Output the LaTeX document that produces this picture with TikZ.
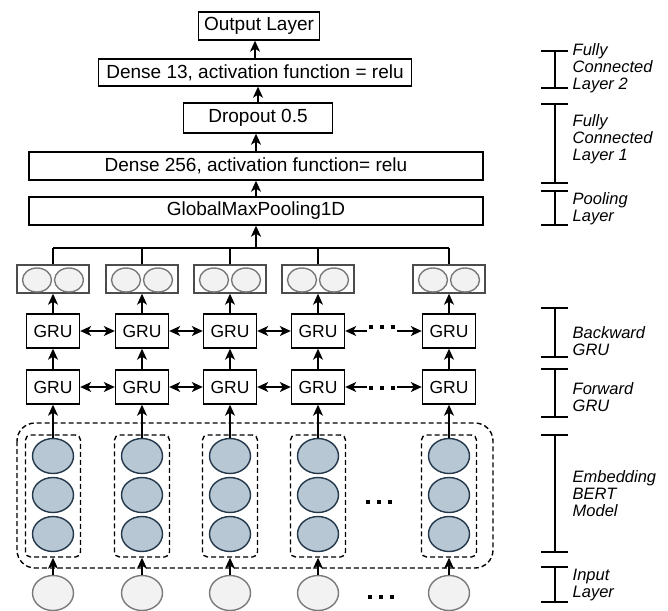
\documentclass[tikz,border=0pt]{standalone}
\usepackage{fontspec}
\setmainfont{Liberation Sans}
\usetikzlibrary{shapes.geometric, arrows.meta}
\definecolor{embfill}{HTML}{B8C7D4}
\definecolor{embline}{HTML}{23374A}
\definecolor{inpfill}{HTML}{F2F2F2}
\definecolor{inpline}{HTML}{7A7A7A}
\newcommand{\sqdots}{\rule{4pt}{4pt}\hspace{7pt}\rule{4pt}{4pt}\hspace{7pt}\rule{4pt}{4pt}}

\begin{document}
\begin{tikzpicture}[>={Stealth[length=11pt, width=10pt, inset=3pt]}, x=1pt, y=-1pt, line width=1.4pt,
    layerbox/.style={draw, rectangle, inner sep=0pt, font=\fontsize{19}{22}\selectfont},
    grubox/.style={draw, rectangle, inner sep=0pt, minimum width=53pt, minimum height=34pt, font=\fontsize{17.5}{20}\selectfont},
    outbox/.style={draw=black!70, rectangle, inner sep=0pt, minimum width=72pt, minimum height=28pt},
    outcirc/.style={draw=inpline, fill=inpfill, ellipse, inner sep=0pt, minimum width=29pt, minimum height=24pt},
    embcirc/.style={draw=embline, fill=embfill, ellipse, inner sep=0pt, minimum width=41pt, minimum height=35pt},
    dashline/.style={dash pattern=on 5pt off 3pt},
    colbox/.style={draw, dashline, rectangle, rounded corners=5pt, inner sep=0pt, minimum width=55pt, minimum height=122pt},
    inpcirc/.style={draw=inpline, fill=inpfill, ellipse, inner sep=0pt, minimum width=41pt, minimum height=35pt},
    dotsnode/.style={inner sep=2pt, outer sep=0pt},
    sidelabel/.style={anchor=west, align=left, inner sep=0pt, font=\fontsize{16.5}{17}\selectfont\itshape}]
  \useasboundingbox (0,0) rectangle (668,610);

  % Dense part
  \node[layerbox, minimum width=121pt, minimum height=28pt] (outl) at (259,26) {Output Layer};
  \node[layerbox, minimum width=313pt, minimum height=27pt] (d13) at (255,72.5) {Dense 13, activation function = relu};
  \node[layerbox, minimum width=149pt, minimum height=30pt] (drop) at (258,118) {Dropout 0.5};
  \node[layerbox, minimum width=454pt, minimum height=28pt] (d256) at (256,166) {Dense 256, activation function= relu};
  \node[layerbox, minimum width=454pt, minimum height=28pt] (pool) at (256,211) {GlobalMaxPooling1D};
  \draw[->] (d13.north) -- (d13.north |- outl.south);
  \draw[->] (drop.north) -- (drop.north |- d13.south);
  \draw[->] (d256.north) -- (d256.north |- drop.south);
  \draw[->] (pool.north) -- (d256.south);

  % Outer dashed box (embedding)
  \draw[dashline, rounded corners=18pt] (17,423) rectangle (493,568);

  % Columns
  \coordinate (bus) at (256,248);
  \foreach \i/\x in {1/53,2/142,3/230,4/318,5/449} {
    \node[outbox] (ob\i) at (\x,279) {};
    \node[outcirc] (oc\i a) at (\x-16,280) {};
    \node[outcirc] (oc\i b) at (\x+16,280) {};
    \node[grubox] (gb\i) at (\x,331) {GRU};
    \node[grubox] (gf\i) at (\x,387) {GRU};
    \node[colbox] (col\i) at (\x,496) {};
    \node[embcirc] (e\i a) at (\x,456) {};
    \node[embcirc] (e\i b) at (\x,495) {};
    \node[embcirc] (e\i c) at (\x,534) {};
    \node[inpcirc] (in\i) at (\x,593) {};
    \draw[->] (in\i.north) -- (col\i.south);
    \draw[->] (e\i a.north) -- (gf\i.south);
    \draw[->] (gf\i) -- (gb\i);
    \draw[->] (gb\i) -- (ob\i);
    \draw (ob\i.north) -- (ob\i.north |- bus);
  }
  \draw (ob1.north |- bus) -- (ob5.north |- bus);
  \draw[->, line width=2.2pt] (bus) -- (pool.south);

  % GRU links
  \foreach \i/\j in {1/2,2/3,3/4} {
    \draw[<->] (gb\i) -- (gb\j);
    \draw[<->] (gf\i) -- (gf\j);
  }
  \node[dotsnode] (bdots) at (382,327) {\sqdots};
  \node[dotsnode] (fdots) at (382,388) {\sqdots};
  \node[dotsnode] (edots) at (379,502) {\sqdots};
  \node[dotsnode] (idots) at (381,597) {\sqdots};
  \draw[->] (gb4.east -| bdots.west) -- (gb4.east);
  \draw[->] (gb5.west -| bdots.east) -- (gb5.west);
  \draw[->] (gf4.east -| fdots.west) -- (gf4.east);
  \draw[->] (gf5.west -| fdots.east) -- (gf5.west);

  % Side brackets
  \foreach \t/\b in {51/88, 104/183, 191/225, 308/357, 369/417, 435/552, 567/602} {
    \draw (555,\t) -- (555,\b);
    \draw (541,\t) -- (568,\t);
    \draw (541,\b) -- (568,\b);
  }
  \node[sidelabel] (fc2lab) at (572,68.5) {Fully\\Connected\\Layer 2};
  \node[sidelabel] (fc1lab) at (572,139) {Fully\\Connected\\Layer 1};
  \node[sidelabel] (poollab) at (572,208.5) {Pooling\\Layer};
  \node[sidelabel] (backlab) at (572,341) {Backward\\GRU};
  \node[sidelabel] (fwdlab) at (572,397) {Forward\\GRU};
  \node[sidelabel] (emblab) at (572,494) {Embedding\\BERT\\Model};
  \node[sidelabel] (inplab) at (572,585) {Input\\Layer};
\end{tikzpicture}
\end{document}
